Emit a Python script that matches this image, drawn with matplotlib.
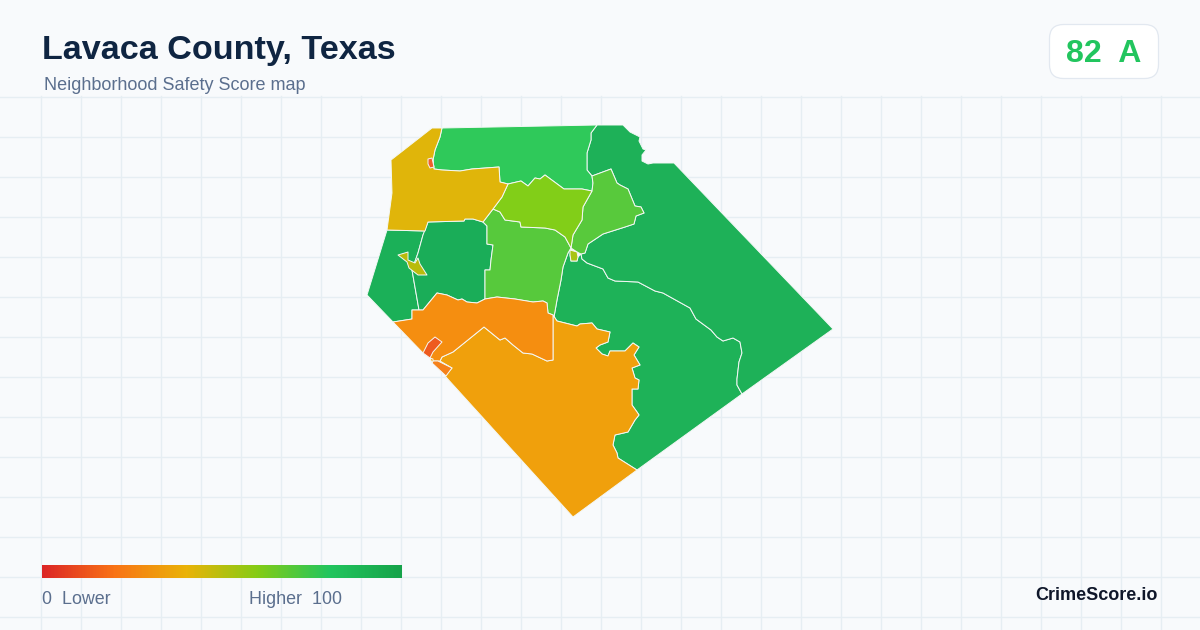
import matplotlib
matplotlib.use("Agg")
import matplotlib.pyplot as plt
import numpy as np
from matplotlib.colors import LinearSegmentedColormap
from matplotlib.patches import FancyBboxPatch

plt.rcParams["font.family"] = ["Liberation Sans", "DejaVu Sans"]

title = "Lavaca County, Texas"
subtitle = "Neighborhood Safety Score map"
score_label = "82  A"
brand = "CrimeScore.io"
legend_low = "0  Lower"
legend_high = "Higher  100"
legend_stops = [0, 0.2, 0.4, 0.6, 0.8, 1]
legend_colors = ["#dc2626", "#f97316", "#eab308", "#84cc16", "#22c55e", "#16a34a"]

# boundaries, in pixels, shared between tracts
a_b = [(442, 128), (440, 137), (435, 150), (433, 160), (434, 169), (442, 170), (460, 171),
       (472, 169), (499, 167), (500, 182)]
a_c = [(500, 182), (508, 184), (502, 197), (493, 209), (483, 222)]
a_e = [(483, 222), (473, 219), (465, 219), (464, 221), (428, 222)]
b_c = [(508, 184), (521, 181), (528, 186), (535, 178), (540, 179), (545, 175), (564, 189),
       (582, 189), (592, 191)]
b_k = [(597, 125), (591, 133), (591, 140), (587, 153), (587, 170), (592, 176), (593, 183), (592, 191)]
c_l = [(592, 191), (583, 207), (582, 220), (573, 235), (571, 248)]
c_d = [(571, 248), (565, 237), (555, 230), (545, 228), (521, 227), (520, 222), (505, 220),
       (500, 212), (493, 209)]
d_m = [(571, 248), (568, 253), (563, 267), (561, 280), (557, 300), (554, 317)]
d_g = [(553, 315), (548, 313), (547, 303), (543, 301), (533, 302), (515, 299), (497, 297),
       (485, 299)]
d_e = [(485, 299), (485, 270), (490, 270), (491, 260), (493, 245), (487, 244), (487, 226), (483, 222)]
e_g = [(485, 299), (477, 303), (467, 302), (462, 299), (458, 300), (447, 295), (437, 293), (423, 310)]
e_f = [(419, 310), (412, 270), (418, 253), (423, 235), (428, 222)]
f_g = [(419, 310), (412, 310), (412, 319), (393, 322)]
g_j = [(553, 315), (553, 360), (547, 361), (532, 354), (523, 353), (513, 345), (505, 338),
       (500, 340), (484, 327), (453, 352), (442, 357), (440, 361)]
j_m = [(553, 315), (557, 321), (577, 326), (580, 324), (592, 323), (597, 329), (610, 332),
       (608, 342), (600, 345), (596, 348), (602, 354), (608, 356), (610, 351), (625, 351),
       (633, 343), (639, 347), (634, 355), (640, 365), (632, 368), (635, 378), (639, 380),
       (638, 389), (632, 389), (632, 405), (637, 412), (639, 415), (635, 420), (628, 432),
       (615, 435), (613, 445), (617, 453), (618, 458), (637, 470)]
k_m = [(742, 394), (737, 385), (737, 379), (739, 362), (742, 353), (740, 342), (733, 338),
       (723, 341), (717, 337), (711, 330), (696, 319), (690, 308), (663, 293), (655, 291),
       (638, 282), (615, 281), (608, 278), (603, 269), (587, 263), (582, 259), (581, 254)]
k_l = [(581, 254), (585, 253), (588, 244), (603, 234), (625, 227), (634, 224), (636, 216),
       (644, 213), (641, 207), (635, 206), (628, 189), (620, 185), (617, 183), (611, 169), (592, 176)]
k_outer = [(597, 125), (623, 125), (630, 132), (640, 137), (639, 141), (643, 149), (646, 150),
           (642, 155), (642, 161), (648, 164), (653, 163), (674, 163), (833, 329), (742, 394)]

nw_tract = [(432, 128)] + a_b + a_c[1:] + a_e[1:] + [(425, 231), (387, 230), (392, 193), (391, 160)]
north_tract = [(442, 128), (597, 125)] + b_k[1:] + b_c[::-1][1:] + a_b[::-1]
lime_tract = b_c + c_l[1:] + c_d[1:] + [(502, 197)]
mid_tract = [(493, 209), (483, 222)] + d_e[::-1][1:] + d_g[::-1][1:] + d_m[::-1] + c_d[1:]
center_west_tract = a_e[::-1] + d_e[::-1][1:] + e_g[1:] + [(419, 310)] + e_f[1:]
west_tract = [(387, 230), (425, 231)] + e_f[::-1][1:] + f_g[1:] + [(367, 295)]
orange_tract = f_g[::-1] + e_g[::-1] + d_g[::-1][1:] + g_j[1:] + [(433, 361), (423, 353)]
amber_tract = j_m + [(573, 517), (445, 376), (452, 368)] + g_j[::-1]
northeast_tract = k_outer + k_m[1:] + k_l[1:] + b_k[1:6][::-1]
light_tract = k_l[::-1] + [(577, 252), (571, 248)] + c_l[::-1][1:] + [(593, 183)]
south_tract = d_m + j_m + [(742, 394)] + k_m[1:] + [(578, 257), (577, 261), (571, 261), (570, 255)]
coast_red = [(435, 337), (442, 342), (433, 352), (430, 358), (423, 353), (428, 343)]
coast_orange = [(433, 361), (438, 361), (452, 368), (446, 376), (432, 363)]
coast_gold = [(430, 358), (433, 359), (433, 361), (432, 363)]
west_town = [(398, 255), (408, 252), (408, 260), (415, 263), (418, 258), (420, 264), (427, 275),
             (418, 275), (409, 268), (407, 262)]
north_town = [(428, 159), (432, 158), (434, 167), (430, 168), (428, 164)]
river_town = [(570, 250), (577, 252), (578, 257), (577, 261), (571, 261), (570, 255)]

tracts = [south_tract, northeast_tract, north_tract, west_tract, center_west_tract, mid_tract,
          light_tract, lime_tract, nw_tract, amber_tract, orange_tract, coast_red, coast_orange,
          coast_gold, west_town, north_town, river_town]
tract_colors = ["#1eb258", "#1eb158", "#2fc95a", "#1bb058", "#1aad58", "#57c93c",
                "#58c93c", "#82ce18", "#e0b50a", "#f0a00c", "#f58e10", "#ee5a1f", "#f5811a",
                "#eea60c", "#b9bb0c", "#f0602a", "#a9c414"]

fig = plt.figure(figsize=(12, 6.3), dpi=100, facecolor="#f8fafc")
ax = fig.add_axes([0, 0, 1, 1])
ax.set_xlim(0, 1200)
ax.set_ylim(630, 0)
ax.axis("off")

for x in np.arange(40, 1200, 40):
    ax.plot([x + 0.5, x + 0.5], [96, 630], color="#e6eef3", lw=1.0, zorder=1)
for y in np.arange(96, 630, 40):
    ax.plot([0, 1200], [y + 0.5, y + 0.5], color="#e6eef3", lw=1.0, zorder=1)

for tract, color in zip(tracts, tract_colors):
    xs, ys = zip(*tract)
    ax.fill(xs, ys, facecolor=color, edgecolor="#f4f8f6", lw=0.7, joinstyle="round", zorder=2)

ax.text(42, 50, title, fontsize=24.6, fontweight="bold", color="#0f2542", va="center", ha="left")
ax.text(44, 86, subtitle, fontsize=12.95, color="#5b6f8e", va="center", ha="left")

badge = FancyBboxPatch((1049.5, 24.5), 109, 54, boxstyle="round,pad=0,rounding_size=14",
                       facecolor="white", edgecolor="#e2e8f0", lw=0.9, zorder=3)
ax.add_patch(badge)
ax.text(1104, 54, score_label, fontsize=23, fontweight="bold", color="#22c55e",
        va="center", ha="center", zorder=4)

cmap = LinearSegmentedColormap.from_list("score", list(zip(legend_stops, legend_colors)))
ax.imshow(np.linspace(0, 1, 360).reshape(1, -1), cmap=cmap, extent=(42, 402, 578, 565),
          aspect="auto", zorder=3)
ax.set_xlim(0, 1200)
ax.set_ylim(630, 0)
ax.text(42, 599, legend_low, fontsize=12.9, color="#5b6f8e", va="center", ha="left")
ax.text(249, 599, legend_high, fontsize=12.9, color="#5b6f8e", va="center", ha="left")
ax.text(1158, 595, brand, fontsize=13, fontweight="bold", color="#0f172a", va="center", ha="right")

fig.savefig("out.png", dpi=100, facecolor=fig.get_facecolor())
